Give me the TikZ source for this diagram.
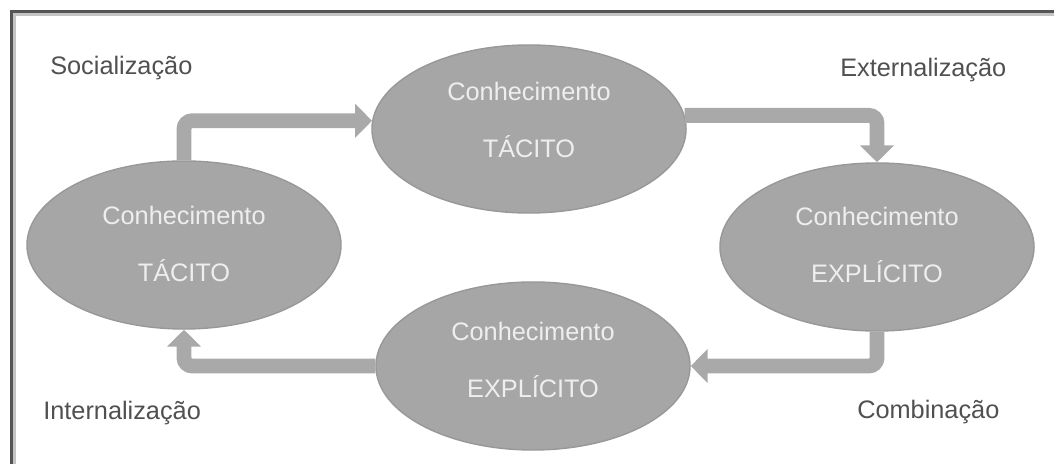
\documentclass[tikz,border=0pt]{standalone}
\usepackage{fontspec}
\setmainfont{Liberation Sans}
\usetikzlibrary{arrows.meta, shapes.geometric}
\definecolor{cknow}{HTML}{A6A6A6}
\definecolor{cedge}{HTML}{989898}
\definecolor{cpale}{HTML}{EEEEEE}
\definecolor{cflow}{HTML}{A9A9A9}
\definecolor{cgrey}{HTML}{505050}
\definecolor{cframe}{HTML}{555555}
\tikzset{
  every picture/.style={font=\fontsize{18}{20}\selectfont},
  know/.style={ellipse, fill=cknow, draw=cedge, line width=1pt, minimum width=7.85cm, minimum height=4.2cm},
  words/.style={text=cpale, align=center, inner sep=0pt, font=\fontsize{18}{40.5}\selectfont},
  flow/.style={-{Triangle[length=0.42cm, width=0.82cm]}, draw=cflow, line width=0.37cm, rounded corners=0.2cm},
  mode/.style={text=cgrey, anchor=west, inner sep=0pt},
}

\begin{document}
\begin{tikzpicture}[x=0.025cm, y=-0.025cm]
  \useasboundingbox (0,0) rectangle (1054,464);
  % frame: only its top and left sides are in view
  \draw[cframe, line width=0.08cm] (1054,11.5) -- (11.5,11.5) -- (11.5,464);
  \draw[cframe!35, line width=0.06cm] (1054,14.5) -- (14.5,14.5) -- (14.5,464);
  % the four kinds of knowledge
  \foreach \n/\x/\y/\s/\w in {tt/529/129/0.22/TÁCITO, tl/184/245/0.03/TÁCITO, tr/877/247/0.06/EXPLÍCITO, tb/533/366/0.14/EXPLÍCITO} {
    \node[know] (\n) at (\x,\y) {};
    \node[words] (\n-w) at ([yshift=\s cm]\n.center) {Conhecimento\\\w};
  }
  % conversion from one to the next
  \draw[flow] (tl.north) |- (tt.177);
  \draw[flow] (tt.5) -| (tr.north);
  \draw[flow] (tr.south) |- (tb.east);
  \draw[flow] (tb.west) -| (tl.south);
  \node[mode] (soc) at (50,68) {Socialização};
  \node[mode] (ext) at (840,70) {Externalização};
  \node[mode] (com) at (857,412) {Combinação};
  \node[mode] (int) at (43,413) {Internalização};
\end{tikzpicture}
\end{document}
